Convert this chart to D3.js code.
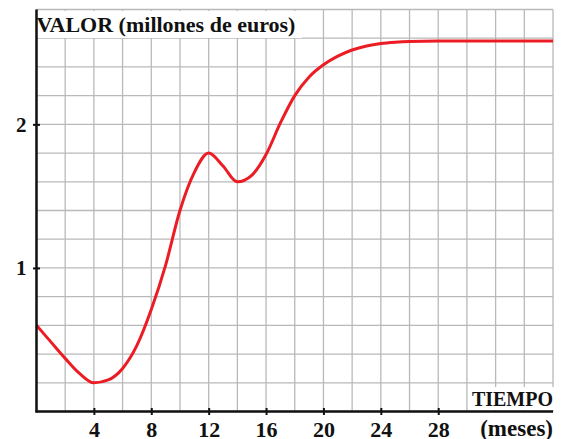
<!DOCTYPE html>
<html>
<head>
<meta charset="utf-8">
<script src="https://cdn.jsdelivr.net/npm/d3@7/dist/d3.min.js"></script>
<style>
  html, body { margin: 0; padding: 0; background: #fff; }
  svg { display: block; }
  text { font-family: "Liberation Serif", "Times New Roman", serif; font-weight: bold; fill: #111; }
</style>
</head>
<body>
<svg id="chart" width="562" height="439"></svg>
<script>
// Value of the investment over time (months -> millions of euros)
const months = [0, 1, 2, 3, 4, 5, 6, 7, 8, 9, 10, 11, 12, 13, 14, 15, 16, 17, 18, 19, 20, 21, 22, 23, 24, 25, 26, 28, 30, 32, 34, 36];
const values = [0.60, 0.485, 0.37, 0.265, 0.20, 0.22, 0.30, 0.46, 0.71, 1.02, 1.40, 1.665, 1.80, 1.71, 1.60, 1.645, 1.79, 2.01, 2.20, 2.33, 2.415, 2.475, 2.518, 2.546, 2.563, 2.572, 2.577, 2.58, 2.58, 2.58, 2.58, 2.58];

const xTickLabels = [4, 8, 12, 16, 20, 24, 28];
const yTickLabels = [1, 2];
const xGrid = d3.range(0, 37, 2);
const yGrid = d3.range(0, 2.81, 0.2);

const svg = d3.select("#chart");
const x = d3.scaleLinear().domain([0, 36]).range([36.5, 553]);
const y = d3.scaleLinear().domain([0, 2.8]).range([411.5, 9.5]);

// grid
const grid = svg.append("g").attr("stroke", "#b9b9bb").attr("stroke-width", 1.3);
grid.selectAll(".gx").data(xGrid).join("line")
  .attr("x1", d => x(d)).attr("x2", d => x(d))
  .attr("y1", y(0)).attr("y2", y(2.8));
grid.selectAll(".gy").data(yGrid).join("line")
  .attr("x1", x(0)).attr("x2", x(36))
  .attr("y1", d => y(d)).attr("y2", d => y(d));

// curve
const line = d3.line()
  .x((d, i) => x(months[i]))
  .y(d => y(d))
  .curve(d3.curveMonotoneX);
svg.append("path")
  .datum(values)
  .attr("d", line)
  .attr("fill", "none")
  .attr("stroke", "#ec1c24")
  .attr("stroke-width", 3)
  .attr("stroke-linejoin", "round");

// axes
const xAxis = d3.axisBottom(x).tickValues(xTickLabels).tickSize(0).tickPadding(0).tickFormat(d3.format("d"));
const yAxis = d3.axisLeft(y).tickValues(yTickLabels).tickSize(0).tickPadding(0).tickFormat(d3.format("d"));

const gx = svg.append("g").attr("transform", `translate(0,${y(0)})`).call(xAxis);
gx.select(".domain").remove();
gx.selectAll(".tick line").remove();
gx.selectAll(".tick").append("line")
  .attr("y1", -3.5).attr("y2", 3.5).attr("stroke", "#111").attr("stroke-width", 2);
gx.selectAll(".tick text")
  .attr("y", 25).attr("dy", null)
  .style("font-size", "22px").style("font-family", "'Liberation Serif', serif").style("font-weight", "bold").attr("fill", "#111");

const gy = svg.append("g").attr("transform", `translate(${x(0)},0)`).call(yAxis);
gy.select(".domain").remove();
gy.selectAll(".tick line").remove();
gy.selectAll(".tick").append("line")
  .attr("x1", -3.5).attr("x2", 3.5).attr("stroke", "#111").attr("stroke-width", 2);
gy.selectAll(".tick text")
  .attr("x", -10).attr("dy", "0.33em")
  .style("font-size", "21px").style("font-family", "'Liberation Serif', serif").style("font-weight", "bold").attr("fill", "#111");

// axis lines
svg.append("line").attr("x1", x(0)).attr("x2", x(0)).attr("y1", y(2.8)).attr("y2", y(0) + 1)
  .attr("stroke", "#111").attr("stroke-width", 2.5);
svg.append("line").attr("x1", x(0) - 1).attr("x2", x(36)).attr("y1", y(0)).attr("y2", y(0))
  .attr("stroke", "#111").attr("stroke-width", 2.5);

// axis titles on white boxes
svg.append("rect").attr("x", x(0) + 1.5).attr("y", 11).attr("width", 264).attr("height", 27).attr("fill", "#fff");
svg.append("text").attr("x", x(0)).attr("y", 32)
  .style("font-size", "22px").text("VALOR (millones de euros)");

svg.append("rect").attr("x", 472).attr("y", 387).attr("width", 82).attr("height", 23).attr("fill", "#fff");
svg.append("text").attr("x", 553).attr("y", 406).attr("text-anchor", "end")
  .style("font-size", "20px").text("TIEMPO");
svg.append("text").attr("x", 553).attr("y", 436).attr("text-anchor", "end")
  .style("font-size", "23px").text("(meses)");
</script>
</body>
</html>
